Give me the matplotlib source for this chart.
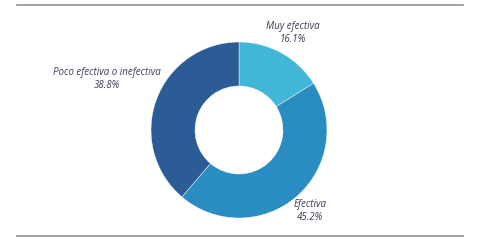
import matplotlib.pyplot as plt
from matplotlib.lines import Line2D

# data
labels = ['Muy efectiva', 'Efectiva', 'Poco efectiva o inefectiva']
values = [16.1, 45.2, 38.8]
colors = ['#41b6d6', '#2a8dc2', '#2b5c95']

W, H = 486, 246
fig = plt.figure(figsize=(W / 100, H / 100), dpi=100)

# donut centred at (239, 130) px, outer radius 88 px
cx, cy, r = 239, 130, 88
ax = fig.add_axes([(cx - r) / W, (H - cy - r) / H, 2 * r / W, 2 * r / H])
ax.pie(values, colors=colors, startangle=90, counterclock=False,
       wedgeprops=dict(width=0.5, edgecolor='white', linewidth=0.3))
ax.set_xlim(-1, 1)
ax.set_ylim(-1, 1)
ax.set_aspect('equal')
ax.axis('off')

# labels (pixel positions of the text centres)
label_pos = [(293, 33), (310, 211), (107, 79)]
for lab, val, (px, py) in zip(labels, values, label_pos):
    fig.text(px / W, 1 - py / H, f'{lab}\n{val:.1f}%', ha='center', va='center',
             fontsize=7, style='italic', color='#3c3c58', family='Open Sans',
             linespacing=1.15)

# horizontal rules
for y in (5, 236):
    fig.add_artist(Line2D([17 / W, 463 / W], [1 - y / H, 1 - y / H],
                          color='#9a9a9a', linewidth=1.3))

fig.savefig('out.png', dpi=100)
